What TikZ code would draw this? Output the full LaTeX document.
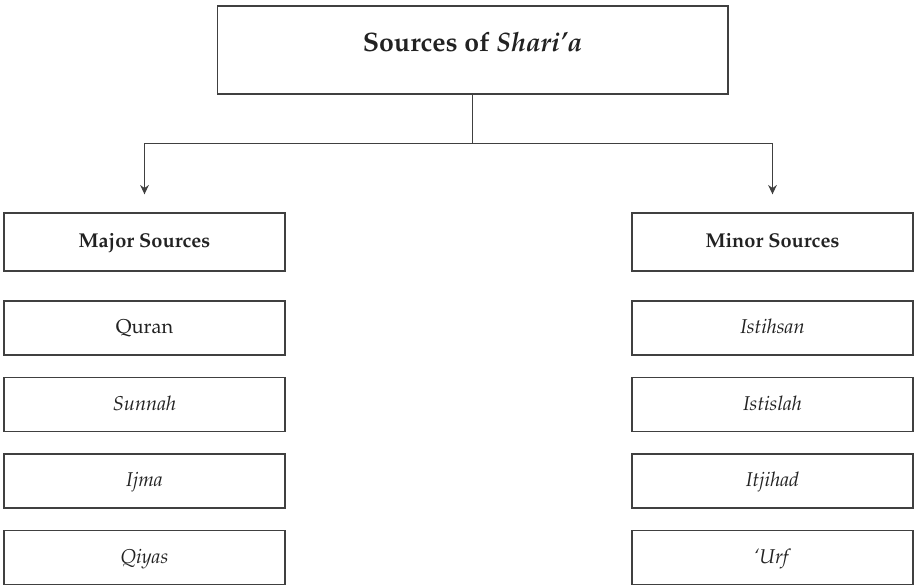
\documentclass[tikz,border=0pt]{standalone}
\usepackage[T1]{fontenc}
\renewcommand{\rmdefault}{ppl}
\usepackage{tikz}
\usetikzlibrary{arrows.meta, calc}
\definecolor{edge}{HTML}{404040}
\definecolor{ink}{HTML}{222222}
\tikzstyle{source} = [rectangle, minimum width=210.75pt, minimum height=40.5pt, text height=12pt, text depth=3.5pt, text centered, draw=edge, line width=1pt, text=ink, font=\fontsize{15}{18}\selectfont]
\tikzstyle{group} = [source, minimum height=43.5pt, font=\fontsize{15}{18}\selectfont\bfseries]
\tikzstyle{link} = [draw=edge, line width=1pt]

\begin{document}
\begin{tikzpicture}[x=0.75pt, y=-0.75pt]
		\useasboundingbox (0,0) rectangle (914,585);
		\node (shari) [rectangle, minimum width=383pt, minimum height=66pt, text height=15pt, text depth=13pt, draw=edge, line width=1pt, text=ink, font=\fontsize{20}{24}\selectfont\bfseries] at (472.5,50) {Sources of \textit{Shari'a}};

		\node (major) [group] at (144.5,242) {Major Sources};
		\node (quran) [source] at ($(major) + (0, 86)$) {Quran};
		\node (sunnah) [source] at ($(quran) + (0, 76.5)$) {\textit{Sunnah}};
		\node (ijma) [source] at ($(sunnah) + (0, 76.5)$) {\textit{Ijma}};
		\node (qiyas) [source] at ($(ijma) + (0, 76.5)$) {\textit{Qiyas}};

		\node (minor) [group] at ($(major) + (628, 0)$) {Minor Sources};
		\node (istihsan) [source] at ($(minor) + (0, 86)$) {\textit{Istihsan}};
		\node (istislah) [source] at ($(istihsan) + (0, 76.5)$) {\textit{Istislah}};
		\node (itjihad) [source] at ($(istislah) + (0, 76.5)$) {\textit{Itjihad}};
		\node (urf) [source] at ($(itjihad) + (0, 76.5)$) {\textit{`Urf}};

		\coordinate (fork) at ($(shari.south) + (0, 49)$);
		\coordinate (majortip) at ($(major.north) + (0, -18)$);
		\coordinate (minortip) at ($(minor.north) + (0, -18)$);

		\draw[link] (shari.south) -- (fork);
		\draw[link, -{Stealth[length=7pt, width=6.5pt]}] (fork) -| (majortip);
		\draw[link, -{Stealth[length=7pt, width=6.5pt]}] (fork) -| (minortip);
	\end{tikzpicture}
\end{document}
